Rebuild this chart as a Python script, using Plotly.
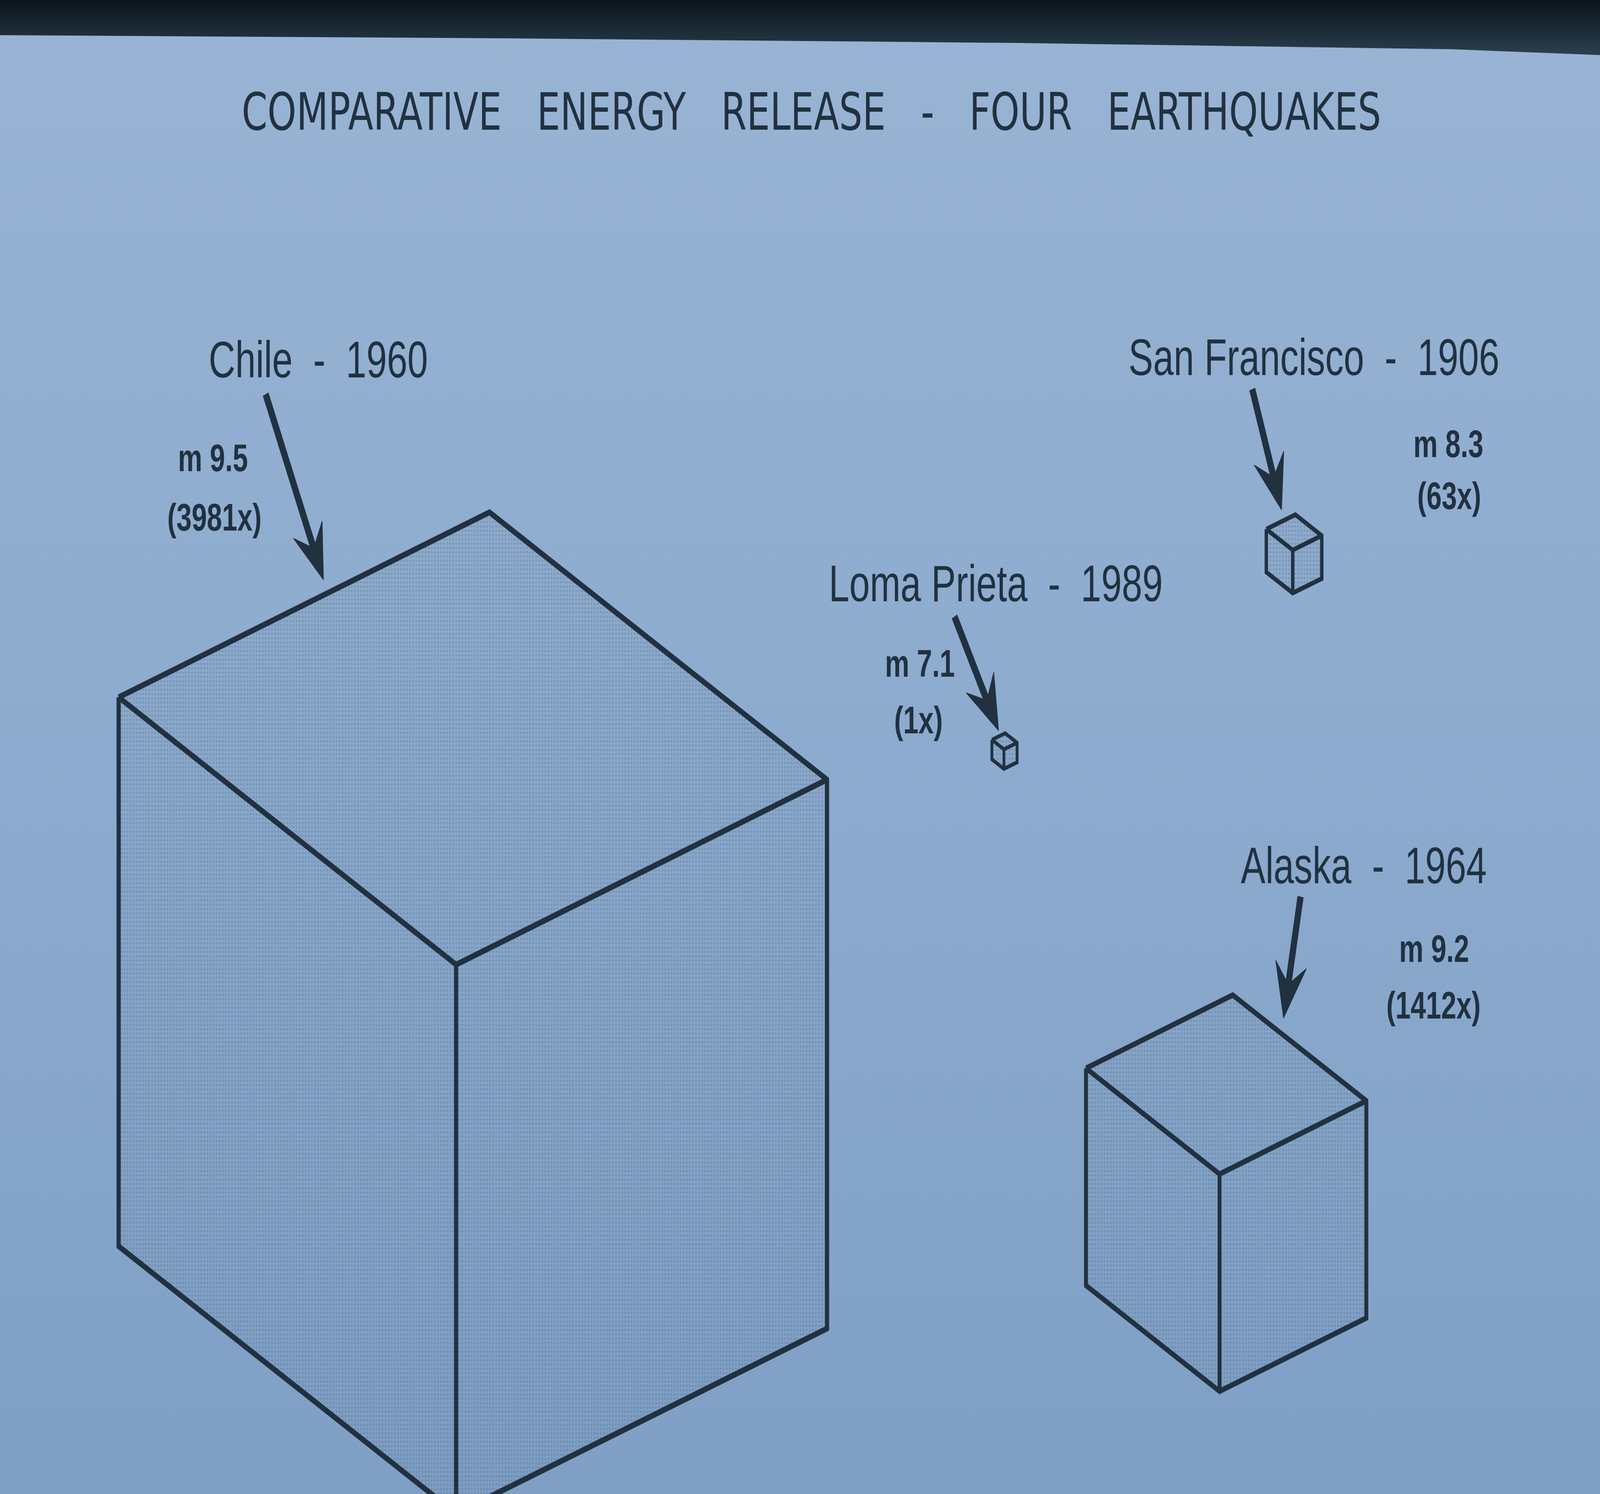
import numpy as np
import plotly.graph_objects as go

# ---------------- data ----------------
quake_names = ["Chile", "Alaska", "San Francisco", "Loma Prieta"]
quake_years = [1960, 1964, 1906, 1989]
magnitudes = [9.5, 9.2, 8.3, 7.1]
energy_ratio = [3981, 1412, 63, 1]          # energy relative to Loma Prieta
cube_edge = [1405, 556, 110, 50]            # drawn cube edge, as measured on the slide

title_text = "COMPARATIVE ENERGY RELEASE - FOUR EARTHQUAKES"

# ---------------- layout constants ----------------
W, H = 5728, 3824
INK = "#213140"
NB = "\u00a0"

cube_anchor = {
    "Chile": (1633, 2469),
    "Alaska": (4366, 3005),
    "San Francisco": (4628, 1408),
    "Loma Prieta": (3594, 1918),
}
VEC_L = np.array([-0.86, -0.487])
VEC_R = np.array([0.945, -0.337])
VEC_D = np.array([0.0, 1.0])

name_pos = {"Chile": (1139, 920), "Alaska": (4882, 2215),
            "San Francisco": (4704, 914), "Loma Prieta": (3565, 1493)}
mag_pos = {"Chile": (762, 1172), "Alaska": (5134, 2428),
           "San Francisco": (5185, 1136), "Loma Prieta": (3293, 1698)}
ratio_pos = {"Chile": (768, 1324), "Alaska": (5132, 2573),
             "San Francisco": (5188, 1269), "Loma Prieta": (3288, 1843)}
arrow_geom = {"Chile": ((951, 1009), (1158, 1484)),
              "Alaska": ((4656, 2295), (4595, 2606)),
              "San Francisco": ((4483, 996), (4588, 1305)),
              "Loma Prieta": ((3417, 1578), (3575, 1870))}
line_w = {"Chile": 15, "Alaska": 14, "San Francisco": 12, "Loma Prieta": 10}

fig = go.Figure()

# slide background, lighter towards the top
fig.add_trace(go.Scatter(
    x=[0, W, W, 0, 0], y=[0, 0, H, H, 0], mode="lines", fill="toself",
    line=dict(width=0), hoverinfo="skip", showlegend=False,
    fillgradient=dict(type="vertical",
                      colorscale=[[0, "#7f9fc5"], [0.5, "#8cabce"], [1, "#99b4d4"]]),
))
# dark frame edge at the top of the slide
fig.add_trace(go.Scatter(
    x=[0, W, W, 5200, 3650, 1800, 0, 0],
    y=[0, 0, 141, 126, 110, 98, 90, 0],
    mode="lines", fill="toself", line=dict(width=0), hoverinfo="skip",
    showlegend=False,
    fillgradient=dict(type="vertical",
                      colorscale=[[0, "#2c4050"], [0.4, "#1d2d39"], [1, "#0c151c"]]),
))

# ---------------- cubes ----------------
for i, name in enumerate(quake_names):
    s = cube_edge[i]
    f = np.array(cube_anchor[name], dtype=float)
    L = f + VEC_L * s
    R = f + VEC_R * s
    B = f + (VEC_L + VEC_R) * s
    fd = f + VEC_D * s
    Ld = L + VEC_D * s
    Rd = R + VEC_D * s
    for face in [[f, L, B, R], [f, L, Ld, fd], [f, R, Rd, fd]]:
        pts = face + [face[0]]
        fig.add_trace(go.Scatter(
            x=[p[0] for p in pts], y=[p[1] for p in pts], mode="lines",
            fill="toself", line=dict(width=0), hoverinfo="skip", showlegend=False,
            fillcolor="rgba(70,95,125,0.06)",
            fillpattern=dict(shape=".", size=11, solidity=0.22,
                             fgcolor="#4a6484", fgopacity=0.3,
                             bgcolor="rgba(70,95,125,0.05)"),
        ))
    xs, ys = [], []
    for seg in [[L, B, R, Rd, fd, Ld, L], [L, f, R], [f, fd]]:
        xs += [p[0] for p in seg] + [None]
        ys += [p[1] for p in seg] + [None]
    fig.add_trace(go.Scatter(
        x=xs, y=ys, mode="lines", hoverinfo="skip", showlegend=False,
        line=dict(color=INK, width=line_w[name]),
    ))

# ---------------- arrows ----------------
SHAFT = 22
HEAD_LEN, HEAD_HALF, NOTCH = 140, 56, 88
for name in quake_names:
    (x0, y0), (x1, y1) = arrow_geom[name]
    d = np.array([x1 - x0, y1 - y0], dtype=float)
    d /= np.hypot(*d)
    n = np.array([-d[1], d[0]])
    tip = np.array([x1, y1], dtype=float)
    notch = tip - d * NOTCH
    b1 = tip - d * HEAD_LEN + n * HEAD_HALF
    b2 = tip - d * HEAD_LEN - n * HEAD_HALF
    fig.add_trace(go.Scatter(
        x=[x0, notch[0] + d[0] * 20], y=[y0, notch[1] + d[1] * 20], mode="lines",
        line=dict(color=INK, width=SHAFT), hoverinfo="skip", showlegend=False,
    ))
    head = [tip, b1, notch, b2, tip]
    fig.add_trace(go.Scatter(
        x=[p[0] for p in head], y=[p[1] for p in head], mode="lines",
        fill="toself", fillcolor=INK, line=dict(color=INK, width=2),
        hoverinfo="skip", showlegend=False,
    ))

# ---------------- text ----------------
gap = NB + " " + NB
annotations = [dict(
    x=2905, y=286, xref="x", yref="y", showarrow=False,
    text=title_text.replace(" ", gap),
    font=dict(family="DejaVu Sans", size=132, color=INK),
    xanchor="center", yanchor="middle",
)]
label_font = "Liberation Sans, Arial, sans-serif"
for i, name in enumerate(quake_names):
    nx, ny = name_pos[name]
    annotations.append(dict(
        x=nx, y=ny, xref="x", yref="y", showarrow=False,
        text=f"{name}{NB*2}-{NB*2}{quake_years[i]}",
        font=dict(family=label_font, size=132, color=INK),
        xanchor="center", yanchor="middle",
    ))
    mx, my = mag_pos[name]
    annotations.append(dict(
        x=mx, y=my, xref="x", yref="y", showarrow=False,
        text=f"m {magnitudes[i]}",
        font=dict(family=label_font, size=98, color=INK, weight="bold"),
        xanchor="center", yanchor="middle",
    ))
    rx, ry = ratio_pos[name]
    annotations.append(dict(
        x=rx, y=ry, xref="x", yref="y", showarrow=False,
        text=f"({energy_ratio[i]}x)",
        font=dict(family=label_font, size=98, color=INK, weight="bold"),
        xanchor="center", yanchor="middle",
    ))

fig.update_layout(
    width=W, height=H, autosize=False,
    margin=dict(l=0, r=0, t=0, b=0, pad=0),
    paper_bgcolor="#8cabce", plot_bgcolor="#8cabce",
    xaxis=dict(range=[0, W], visible=False, fixedrange=True),
    yaxis=dict(range=[H, 0], visible=False, fixedrange=True),
    annotations=annotations,
    showlegend=False,
)

# fit the fixed 5728x3824 slide into whatever viewport the browser really has
fit_js = """
document.documentElement.style.margin='0';
document.body.style.margin='0';
document.body.style.overflow='hidden';
document.body.style.background='#8cabce';
var gd = document.getElementById('{plot_id}');
var sx = window.innerWidth / %d, sy = window.innerHeight / %d;
gd.style.transformOrigin = '0 0';
gd.style.transform = 'scale(' + sx + ',' + sy + ')';
""" % (W, H)
fig.write_html("out.html", default_width=f"{W}px", default_height=f"{H}px",
               config={"displayModeBar": False, "staticPlot": True},
               post_script=fit_js)
